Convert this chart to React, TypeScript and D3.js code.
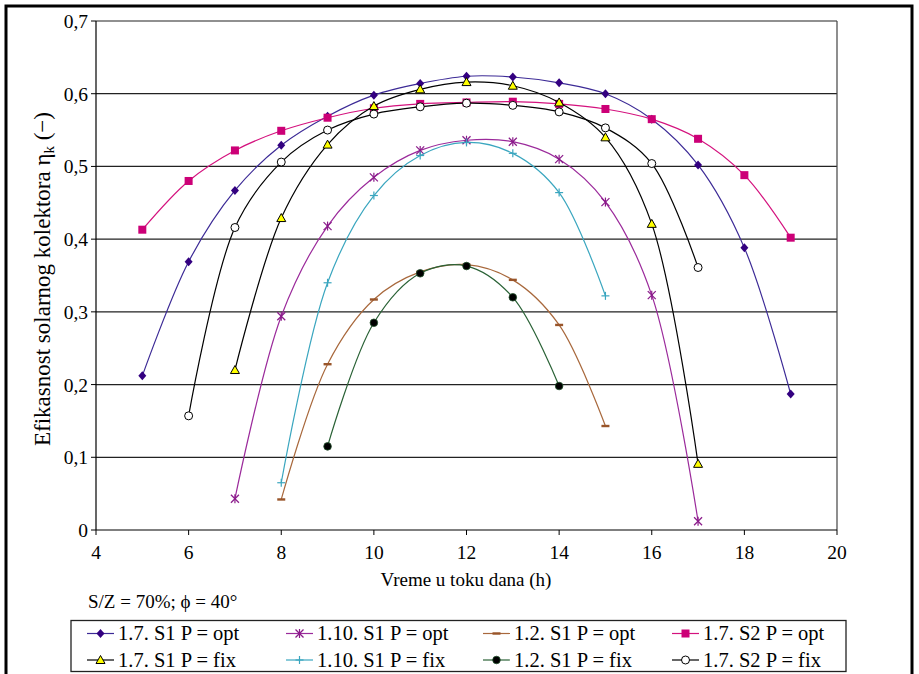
import React from 'react';
import * as d3 from 'd3';

// hours of the day for each series
const hours17S1opt = [5, 6, 7, 8, 9, 10, 11, 12, 13, 14, 15, 16, 17, 18, 19];
const eff17S1opt = [0.212, 0.369, 0.467, 0.529, 0.569, 0.598, 0.614, 0.624, 0.623, 0.615, 0.600, 0.565, 0.502, 0.388, 0.187];

const hours110S1opt = [7, 8, 9, 10, 11, 12, 13, 14, 15, 16, 17];
const eff110S1opt = [0.043, 0.294, 0.418, 0.485, 0.522, 0.536, 0.534, 0.510, 0.451, 0.323, 0.012];

const hours12S1opt = [8, 9, 10, 11, 12, 13, 14, 15];
const eff12S1opt = [0.042, 0.228, 0.317, 0.355, 0.365, 0.344, 0.282, 0.143];

const hours17S2opt = [5, 6, 7, 8, 9, 10, 11, 12, 13, 14, 15, 16, 17, 18, 19];
const eff17S2opt = [0.413, 0.480, 0.522, 0.549, 0.567, 0.580, 0.586, 0.588, 0.589, 0.586, 0.579, 0.565, 0.538, 0.488, 0.402];

const hours17S1fix = [7, 8, 9, 10, 11, 12, 13, 14, 15, 16, 17];
const eff17S1fix = [0.220, 0.429, 0.530, 0.583, 0.606, 0.616, 0.611, 0.588, 0.540, 0.421, 0.091];

const hours110S1fix = [8, 9, 10, 11, 12, 13, 14, 15];
const eff110S1fix = [0.065, 0.340, 0.460, 0.515, 0.533, 0.518, 0.464, 0.322];

const hours12S1fix = [9, 10, 11, 12, 13, 14];
const eff12S1fix = [0.115, 0.285, 0.353, 0.363, 0.320, 0.198];

const hours17S2fix = [6, 7, 8, 9, 10, 11, 12, 13, 14, 15, 16, 17];
const eff17S2fix = [0.157, 0.416, 0.506, 0.550, 0.572, 0.582, 0.587, 0.584, 0.575, 0.553, 0.504, 0.361];

const xTicks = [4, 6, 8, 10, 12, 14, 16, 18, 20];
const yTicks = [0, 0.1, 0.2, 0.3, 0.4, 0.5, 0.6, 0.7];

type Marker = 'diamond' | 'asterisk' | 'dash' | 'square' | 'triangle' | 'plus' | 'dot' | 'circle';

const series = [
  { name: '1.7. S1 P = opt', hours: hours17S1opt, values: eff17S1opt, color: '#3c2a96', mcolor: '#330080', marker: 'diamond' as Marker },
  { name: '1.10. S1 P = opt', hours: hours110S1opt, values: eff110S1opt, color: '#9b2a9b', mcolor: '#8a1a8a', marker: 'asterisk' as Marker },
  { name: '1.2. S1 P = opt', hours: hours12S1opt, values: eff12S1opt, color: '#a8683c', mcolor: '#99552a', marker: 'dash' as Marker },
  { name: '1.7. S2 P = opt', hours: hours17S2opt, values: eff17S2opt, color: '#d4127e', mcolor: '#cc0077', marker: 'square' as Marker },
  { name: '1.7. S1 P = fix', hours: hours17S1fix, values: eff17S1fix, color: '#000000', mcolor: '#000000', marker: 'triangle' as Marker },
  { name: '1.10. S1 P = fix', hours: hours110S1fix, values: eff110S1fix, color: '#3aa6bf', mcolor: '#3aa6bf', marker: 'plus' as Marker },
  { name: '1.2. S1 P = fix', hours: hours12S1fix, values: eff12S1fix, color: '#2a6236', mcolor: '#000000', marker: 'dot' as Marker },
  { name: '1.7. S2 P = fix', hours: hours17S2fix, values: eff17S2fix, color: '#000000', mcolor: '#000000', marker: 'circle' as Marker },
];

const font = "'Liberation Serif', Tinos, 'DejaVu Serif', 'Times New Roman', serif";

function MarkerShape({ type, x, y, color }: { type: Marker; x: number; y: number; color: string }) {
  switch (type) {
    case 'diamond':
      return <path d={`M${x},${y - 4.5}L${x + 4},${y}L${x},${y + 4.5}L${x - 4},${y}Z`} fill={color} />;
    case 'square':
      return <rect x={x - 4} y={y - 4} width={8} height={8} fill={color} />;
    case 'triangle':
      return <path d={`M${x},${y - 4.5}L${x + 4.5},${y + 3.5}L${x - 4.5},${y + 3.5}Z`} fill="#ffff00" stroke="#000" strokeWidth={1} />;
    case 'circle':
      return <circle cx={x} cy={y} r={4} fill="#fff" stroke="#000" strokeWidth={1} />;
    case 'dot':
      return <circle cx={x} cy={y} r={3.8} fill="#000" stroke="#1f4f2a" strokeWidth={0.8} />;
    case 'dash':
      return <rect x={x - 4} y={y - 1.2} width={8} height={2.4} fill={color} />;
    case 'plus':
      return (
        <g stroke={color} strokeWidth={1.2}>
          <line x1={x - 4} y1={y} x2={x + 4} y2={y} />
          <line x1={x} y1={y - 4} x2={x} y2={y + 4} />
        </g>
      );
    case 'asterisk':
      return (
        <g stroke={color} strokeWidth={1.2}>
          <line x1={x - 4} y1={y - 4} x2={x + 4} y2={y + 4} />
          <line x1={x - 4} y1={y + 4} x2={x + 4} y2={y - 4} />
          <line x1={x} y1={y - 4.5} x2={x} y2={y + 4.5} />
        </g>
      );
  }
  return null;
}

export default function App() {
  const left = 96, right = 837, top = 21, bottom = 530;
  const x = d3.scaleLinear().domain([4, 20]).range([left, right]);
  const y = d3.scaleLinear().domain([0, 0.7]).range([bottom, top]);
  const fmtY = (v: number) => (v === 0 ? '0' : d3.format('.1f')(v).replace('.', ','));

  const lineGen = d3.line<[number, number]>()
    .x(d => x(d[0]))
    .y(d => y(d[1]))
    .curve(d3.curveCatmullRom.alpha(0.5));

  // legend layout: start of sample line per column, baseline per row
  const legendCols = [87, 286, 483, 672];
  const legendRows = [633.5, 660];

  return (
    <svg width={919} height={674} style={{ position: 'absolute', left: 0, top: 0, background: '#fff', fontFamily: font }}>
      <rect x={0} y={0} width={919} height={674} fill="#fff" />
      {/* outer frame */}
      <rect x={6} y={6} width={906} height={700} fill="none" stroke="#000" strokeWidth={3} />

      {/* gridlines */}
      {yTicks.filter(t => t > 0).map(t => (
        <line key={t} x1={left} x2={right} y1={y(t)} y2={y(t)} stroke="#222" strokeWidth={1.2} />
      ))}
      <line x1={right} x2={right} y1={top} y2={bottom} stroke="#444" strokeWidth={1.2} />

      {/* axes */}
      <line x1={left} x2={left} y1={top} y2={bottom} stroke="#000" strokeWidth={1.2} />
      <line x1={left} x2={right} y1={bottom} y2={bottom} stroke="#000" strokeWidth={1.2} />
      {yTicks.map(t => (
        <g key={t}>
          <line x1={left - 5} x2={left} y1={y(t)} y2={y(t)} stroke="#000" />
          <text x={left - 8} y={y(t) + 7} fontSize={19.5} textAnchor="end">{fmtY(t)}</text>
        </g>
      ))}
      {xTicks.map(t => (
        <g key={t}>
          <line x1={x(t)} x2={x(t)} y1={bottom} y2={bottom + 5} stroke="#000" />
          <text x={x(t)} y={bottom + 29} fontSize={19.5} textAnchor="middle">{t}</text>
        </g>
      ))}

      {/* series */}
      {series.map(s => {
        const pts = s.hours.map((h, i) => [h, s.values[i]] as [number, number]);
        return (
          <g key={s.name}>
            <path d={lineGen(pts) || ''} fill="none" stroke={s.color} strokeWidth={1.2} />
            {pts.map((p, i) => (
              <MarkerShape key={i} type={s.marker} x={x(p[0])} y={y(p[1])} color={s.mcolor} />
            ))}
          </g>
        );
      })}

      {/* titles */}
      <text x={466} y={586} fontSize={19} textAnchor="middle">Vreme u toku dana (h)</text>
      <text transform="translate(50,279) rotate(-90)" fontSize={23} textAnchor="middle">
        Efikasnost solarnog kolektora η<tspan fontSize={15} dy={4}>k</tspan><tspan dy={-4}> (−)</tspan>
      </text>
      <text x={88} y={608} fontSize={19}>S/Z = 70%; ϕ = 40°</text>

      {/* legend */}
      <rect x={71} y={620.5} width={775} height={51} fill="#fff" stroke="#222" strokeWidth={1.3} />
      {series.map((s, i) => {
        const lx = legendCols[i % 4];
        const ly = legendRows[Math.floor(i / 4)];
        return (
          <g key={s.name}>
            <line x1={lx} x2={lx + 27} y1={ly} y2={ly} stroke={s.color} strokeWidth={1.2} />
            <MarkerShape type={s.marker} x={lx + 13.5} y={ly} color={s.mcolor} />
            <text x={lx + 31} y={ly + 6.5} fontSize={20.5}>{s.name}</text>
          </g>
        );
      })}
    </svg>
  );
}
